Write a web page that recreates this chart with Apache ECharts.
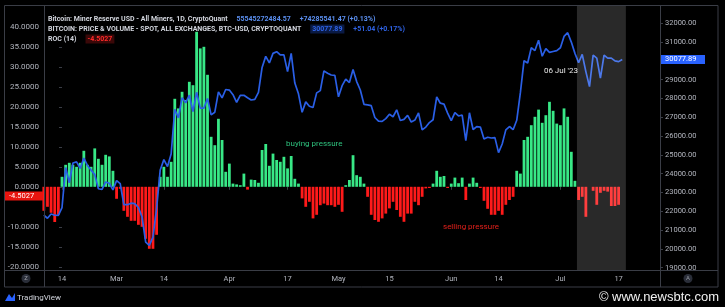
<!DOCTYPE html>
<html>
<head>
<meta charset="utf-8">
<script src="https://cdn.jsdelivr.net/npm/echarts/dist/echarts.min.js"></script>
<style>
html,body{margin:0;padding:0;background:#000;}
#chart{width:725px;height:307px;}
</style>
</head>
<body>
<div id="chart"></div>
<script>
// ---------------- data ----------------
const startDate = '2023-02-09';
// ROC(14) histogram, one value per day from 2023-02-09 to 2023-07-17
const rocValues = [
  -6, -5, -6.5, -8.8, -7,
  2.5, 5.5, 6, 5.5, 5, 6, 9, 5.5, 5, 9.6, 7, 5.5, 8, 7.6, 4,
  -3, -0.5, -6, -7.5, -8.5, -8.5, -9.5, -10, -13, -15.5, -15.5, -12,
  2.5, 5, 2.5, 6.25, 22, 19.6, 23.75, 21.7, 26.25, 25.4, 38.75, 34.6, 35, 28, 12.5, 10.4, 17, 11.7, 3.75,
  5.8, 0.8, 0.6, 0.4, 3.3, -0.7, 1.8, 1.7, 1.0, 9.2, 10.7, 5.25, 8.3, 6.7, 6.25, 7.5, 4.6, 7.7, 2, 0.8,
  -2.9, -5, -3.75, -7.9, -7, -4.6, -4.2, -4.6, -4.6, -5,
  -4.5, -6.25, 0.4, 1.7, 7.9, 2.9, 2.5, 0.8, -2.5, -7, -8.3, -8.75, -7.9, -6.7, -5.4, -3.75, -5.8, -7.5, -8.75, -6.7,
  -6.7, -3.75, -4.6, -2.5, -0.4, -0.3, 0.8, 4, 2.5, 2.7, -0.3,
  0.8, 2.3, 0.9, 2.3, -3.3, 0.8, 2.3, 1, -0.3, -3.5, -5.5, -7, -7, -6, -7, -4.5, -3.3, -2.5, 4, 3.3,
  11.7, 12.5, 15.4, 17.5, 19.3, 16, 17.9, 21.25, 19, 15.8,
  15.4, 19.6, 17.5, 8.75, 1.5, -3.3, -2.5, -7.5, 0, -1, -4.5, -1.5, -1, -1.2, -4.8, -4.8, -4.5
];
// BTC price, one value per day from 2023-02-09 to 2023-07-18
const priceValues = [
  21800, 21630, 21860, 21790, 21780,
  22200, 24330, 23520, 24570, 24630, 24280, 24830, 24440, 24190, 23950, 23200, 23160, 23560, 23490, 23140,
  23630, 23470, 22360, 22350, 22430, 22410, 22200, 21700, 20360, 20190, 20630, 22160,
  24200, 24750, 24380, 25050, 27420, 26970, 28040, 27770, 28180, 27300, 28330, 27490, 27490, 28000, 27130, 27270, 28350, 28030, 28480,
  28450, 28200, 27800, 28170, 28170, 28040, 27920, 27950, 28330, 29650, 30240, 29890, 30400, 30490, 30320, 30320, 29430, 30400, 28820, 28250,
  27270, 27820, 27590, 27520, 28300, 28420, 29470, 29340, 29250, 29230,
  28090, 28680, 29030, 28850, 29540, 28900, 28450, 27690, 27660, 27620, 26990, 26800, 26780, 26930, 27160, 27030, 27400, 26830, 26890, 27100,
  26750, 26850, 27230, 26330, 26480, 26720, 26870, 28080, 27750, 27700, 27220,
  26820, 27250, 27070, 27120, 25760, 27240, 26350, 26500, 26480, 25850, 25940, 25900, 25920, 25120, 25580, 26330, 26510, 26340, 26840, 28310,
  30010, 29890, 30700, 30550, 31100, 30250, 30650, 30450, 30500, 30550,
  30700, 31300, 31500, 31000, 30400, 29900, 30350, 29430, 28630, 30310, 30150, 29090, 30310, 30150, 30150, 30000, 29960, 30077.89
];
const leftTicks = [-20, -15, -10, 0, 5, 10, 15, 20, 25, 30, 35, 40];
const rightTicks = [19000, 20000, 21000, 22000, 23000, 24000, 25000, 26000, 27000, 28000, 29000, 31000, 32000];
const xTickDates = ['2023-02-14','2023-03-01','2023-03-14','2023-04-01','2023-04-17','2023-05-01','2023-05-15','2023-06-01','2023-06-14','2023-07-01','2023-07-17'];
const xTickLabels = ['14','Mar','14','Apr','17','May','15','Jun','14','Jul','17'];

// ---------------- helpers ----------------
const DAY = 864e5;
function utc(s) { const p = s.split('-').map(Number); return Date.UTC(p[0], p[1] - 1, p[2]); }
const ref = utc('2023-02-14');
function dayOf(s) { return Math.round((utc(s) - ref) / DAY); }
const startDay = dayOf(startDate);
const xDays = priceValues.map((_, i) => startDay + i);   // day position of each date
const xTickDays = xTickDates.map(dayOf);
const labelMap = {};
xTickDays.forEach((d, i) => { labelMap[d] = xTickLabels[i]; });

const GREEN = '#38e886';
const RED = '#ff1a1a';
const GRID = '#3a3d46';
const TXT = '#b2b5be';
const FONT = 'Roboto, "Liberation Sans", Arial, sans-serif';

const chart = echarts.init(document.getElementById('chart'), null, {renderer: 'canvas'});

const option = {
  backgroundColor: '#000000',
  animation: false,
  textStyle: {fontFamily: FONT},
  grid: {left: 44, right: 65, top: 5, bottom: 37, show: false},
  title: [
    {left: 48, top: 10, padding: 0,
     text: '{a|Bitcoin: Miner Reserve USD - All Miners, 1D, CryptoQuant}  {b|55545272484.57}  {b|+74285541.47 (+0.13%)}',
     textStyle: {rich: {
       a: {color: '#d1d4dc', fontSize: 7, fontFamily: FONT},
       b: {color: '#5b8ff0', fontSize: 7, fontFamily: FONT}
     }}},
    {left: 48, top: 20, padding: 0,
     text: '{a|BITCOIN: PRICE & VOLUME - SPOT, ALL EXCHANGES, BTC-USD, CRYPTOQUANT}  {c|30077.89}  {b|+51.04 (+0.17%)}',
     textStyle: {rich: {
       a: {color: '#d1d4dc', fontSize: 7, fontFamily: FONT},
       b: {color: '#2f63e6', fontSize: 7, fontFamily: FONT},
       c: {color: '#2f63e6', fontSize: 7, fontFamily: FONT, backgroundColor: '#0a1a44', padding: [1, 2]}
     }}},
    {left: 48, top: 30, padding: 0,
     text: '{a|ROC (14)}  {r|-4.5027}',
     textStyle: {rich: {
       a: {color: '#d1d4dc', fontSize: 7, fontFamily: FONT},
       r: {color: '#ff2a2a', fontSize: 7, fontFamily: FONT, backgroundColor: '#3a0808', padding: [1, 2]}
     }}}
  ],
  xAxis: {
    type: 'value',
    min: -4.95,
    max: 164.38,
    axisLine: {show: false},
    splitLine: {show: false},
    axisTick: {show: true, customValues: xTickDays, length: 3, lineStyle: {color: GRID}},
    axisLabel: {
      customValues: xTickDays,
      color: TXT, fontSize: 7.5, margin: 5, fontFamily: FONT,
      formatter: v => labelMap[Math.round(v)] || ''
    }
  },
  yAxis: [
    {
      type: 'value', position: 'left',
      min: -20.8, max: 45.45,
      axisLine: {show: false},
      splitLine: {show: false},
      axisTick: {show: true, customValues: leftTicks, length: 3, lineStyle: {color: GRID}},
      axisLabel: {customValues: leftTicks, color: TXT, fontSize: 8, margin: 5, fontFamily: FONT,
                  formatter: v => v.toFixed(4)}
    },
    {
      type: 'value', position: 'right',
      min: 18878, max: 32973,
      axisLine: {show: false},
      splitLine: {show: false},
      axisTick: {show: true, customValues: rightTicks, length: 3, lineStyle: {color: GRID}},
      axisLabel: {customValues: rightTicks, color: TXT, fontSize: 7.5, margin: 5, fontFamily: FONT,
                  formatter: v => v.toFixed(2)}
    }
  ],
  series: [
    {
      name: 'ROC (14)', type: 'bar', yAxisIndex: 0, barWidth: 2.8, z: 2,
      data: rocValues.map((v, i) => ({value: [xDays[i], v], itemStyle: {color: v >= 0 ? GREEN : RED}}))
    },
    {
      name: 'BTC Price', type: 'line', yAxisIndex: 1, showSymbol: false, z: 3,
      lineStyle: {color: '#2a5fe6', width: 1.7},
      data: priceValues.map((v, i) => [xDays[i], v]),
      markArea: {
        silent: true, z: 10,
        itemStyle: {color: 'rgba(255,255,255,0.16)'},
        data: [[{xAxis: dayOf('2023-07-06') - 0.45}, {xAxis: dayOf('2023-07-19')}]]
      }
    }
  ]
};
chart.setOption(option);

// value labels on the axes, placed from the axes' scales
const priceY = chart.convertToPixel({yAxisIndex: 1}, priceValues[priceValues.length - 1]);
const G = [];
G.push({type: 'rect', shape: {x: 4.5, y: 5.5, width: 713.5, height: 281.5}, style: {fill: null, stroke: GRID, lineWidth: 1}, z: 20, silent: true});
G.push({type: 'line', shape: {x1: 44.5, y1: 5, x2: 44.5, y2: 287}, style: {stroke: GRID, lineWidth: 1}, z: 20, silent: true});
G.push({type: 'line', shape: {x1: 660.5, y1: 5, x2: 660.5, y2: 287}, style: {stroke: GRID, lineWidth: 1}, z: 20, silent: true});
G.push({type: 'line', shape: {x1: 4, y1: 270.5, x2: 718, y2: 270.5}, style: {stroke: GRID, lineWidth: 1}, z: 20, silent: true});
G.push({type: 'circle', shape: {cx: 26, cy: 278.5, r: 4.5}, style: {fill: '#2a2e39'}, z: 21, silent: true});
G.push({type: 'text', x: 26, y: 278.5, style: {text: 'Z', fill: '#9598a1', fontSize: 6, align: 'center', verticalAlign: 'middle', fontFamily: FONT}, z: 22, silent: true});
G.push({type: 'circle', shape: {cx: 688, cy: 278.5, r: 4.5}, style: {fill: '#2a2e39'}, z: 21, silent: true});
G.push({type: 'text', x: 688, y: 278.5, style: {text: 'A', fill: '#9598a1', fontSize: 6, align: 'center', verticalAlign: 'middle', fontFamily: FONT}, z: 22, silent: true});
G.push({type: 'rect', shape: {x: 661, y: priceY - 4.5, width: 44, height: 9}, style: {fill: '#2962ff'}, z: 21, silent: true});
G.push({type: 'text', x: 665, y: priceY, style: {text: '30077.89', fill: '#ffffff', fontSize: 7.5, verticalAlign: 'middle', fontFamily: FONT}, z: 22, silent: true});
G.push({type: 'rect', shape: {x: 5, y: 191.5, width: 38, height: 9}, style: {fill: '#e8140f'}, z: 21, silent: true});
G.push({type: 'text', x: 9, y: 196, style: {text: '-4.5027', fill: '#ffffff', fontSize: 7.5, verticalAlign: 'middle', fontFamily: FONT}, z: 22, silent: true});
G.push({type: 'text', x: 286, y: 144, style: {text: 'buying pressure', fill: '#2ec27e', fontSize: 8, verticalAlign: 'middle', fontFamily: FONT}, z: 22, silent: true});
G.push({type: 'text', x: 443, y: 227, style: {text: 'selling pressure', fill: '#e3201b', fontSize: 8, verticalAlign: 'middle', fontFamily: FONT}, z: 22, silent: true});
G.push({type: 'text', x: 578, y: 71, style: {text: "06 Jul '23", fill: '#e8e8e8', fontSize: 8, align: 'right', verticalAlign: 'middle', fontFamily: FONT}, z: 22, silent: true});
G.push({type: 'polygon', shape: {points: [[5, 301], [9, 294], [12, 298], [15, 293], [15, 301]]}, style: {fill: '#2962ff'}, z: 22, silent: true});
G.push({type: 'text', x: 17, y: 297.5, style: {text: 'TradingView', fill: '#d1d4dc', fontSize: 8, verticalAlign: 'middle', fontFamily: FONT}, z: 22, silent: true});
G.push({type: 'text', x: 719, y: 297, style: {text: '\u00A9 www.newsbtc.com', fill: '#f0f0f0', stroke: '#000', lineWidth: 2, fontSize: 13, align: 'right', verticalAlign: 'middle', fontFamily: '"Liberation Sans", Arial, sans-serif'}, z: 23, silent: true});
chart.setOption({graphic: G});
</script>
</body>
</html>
